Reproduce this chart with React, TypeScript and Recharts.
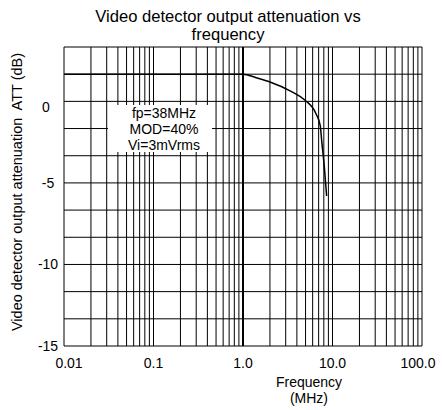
import React from 'react';
import { Line, LineChart, ReferenceLine, XAxis, YAxis } from 'recharts';

const freqMHz = [0.01, 0.1, 1.0, 1.4, 2.0, 3.4, 4.9, 6.6, 7.3, 7.6, 8.1, 8.6];
const attDb = [1.67, 1.67, 1.67, 1.45, 1.19, 0.63, 0.08, -0.8, -1.5, -2.5, -4.0, -5.8];

const xTicks = [0.01, 0.1, 1, 10, 100];
const xTickLabels = ['0.01', '0.1', '1.0', '10.0', '100.0'];
const yTicks = [-15, -10, -5, 0];
const yTickLabels = ['-15', '-10', '-5', '0'];

const decades = [0.01, 0.1, 1, 10];
const minorSteps = [1, 2, 3, 4, 5, 6, 7, 8, 9];
const dbGrid = [-15, -40 / 3, -35 / 3, -10, -25 / 3, -20 / 3, -5, -10 / 3, -5 / 3, 0, 5 / 3, 10 / 3];

const freqGrid = [...decades.flatMap((d) => minorSteps.map((m) => +(d * m).toPrecision(3))), 100];

const data = freqMHz.map((f, i) => ({ f, att: attDb[i] }));

const FONT = '"Liberation Sans", Arial, sans-serif';

const XTick = (props: any) => {
  const { x, y, payload, index } = props;
  const shift = index === 0 ? 5 : index === xTicks.length - 1 ? -4 : 0;
  return (
    <text x={x + shift} y={y} dy={22} textAnchor="middle" fontSize={14} fontFamily={FONT} fill="#000">
      {xTickLabels[xTicks.indexOf(payload.value)]}
    </text>
  );
};

const YTick = (props: any) => {
  const { x, y, payload } = props;
  // the "0" label sits a little under its gridline in the original
  const low = payload.value === 0;
  return (
    <text x={x - (low ? 18 : 16)} y={y} dy={low ? 11 : 5} textAnchor="middle" fontSize={14} fontFamily={FONT} fill="#000">
      {yTickLabels[yTicks.indexOf(payload.value)]}
    </text>
  );
};

const App: React.FC = () => {
  return (
    <div style={{ position: 'absolute', left: 0, top: 0, width: 442, height: 410, background: '#fff', fontFamily: FONT, color: '#000' }}>
      <LineChart width={442} height={410} data={data} margin={{ top: 47, right: 20, bottom: 0, left: 0 }}>
        <XAxis
          dataKey="f"
          type="number"
          scale="log"
          domain={[0.01, 100]}
          ticks={xTicks}
          allowDataOverflow
          axisLine={false}
          tickLine={false}
          tickSize={0}
          tickMargin={0}
          height={64}
          tick={<XTick />}
          interval={0}
        />
        <YAxis
          type="number"
          domain={[-15, 10 / 3]}
          ticks={yTicks}
          allowDataOverflow
          axisLine={false}
          tickLine={false}
          tickSize={0}
          tickMargin={0}
          width={64}
          tick={<YTick />}
          interval={0}
        />
        {dbGrid.map((v) => (
          <ReferenceLine key={`h${v}`} y={v} stroke="#000" strokeWidth={1} />
        ))}
        {freqGrid.map((v) => (
          <ReferenceLine key={`v${v}`} x={v} stroke="#000" strokeWidth={v === 1 ? 2 : 1} />
        ))}
        <Line type="monotone" dataKey="att" stroke="#000" strokeWidth={1.5} dot={false} isAnimationActive={false} />
      </LineChart>

      <div style={{ position: 'absolute', left: 0, top: 8, width: 456, textAlign: 'center', fontSize: 16.6, lineHeight: '18px' }}>
        Video detector output attenuation vs
        <br />
        frequency
      </div>

      <div
        style={{
          position: 'absolute',
          left: 108,
          top: 105,
          width: 104,
          height: 47,
          boxSizing: 'border-box',
          paddingLeft: 8,
          background: '#fff',
          textAlign: 'center',
          fontSize: 14,
          lineHeight: '16px',
        }}
      >
        fp=38MHz
        <br />
        MOD=40%
        <br />
        Vi=3mVrms
      </div>

      <div
        style={{
          position: 'absolute',
          left: 17,
          top: 192,
          transform: 'translate(-50%, -50%) rotate(-90deg)',
          whiteSpace: 'pre',
          fontSize: 14.5,
          lineHeight: '16px',
        }}
      >
        {'Video detector output attenuation  ATT (dB)'}
      </div>

      <div
        style={{
          position: 'absolute',
          left: 309,
          top: 374,
          transform: 'translateX(-50%)',
          textAlign: 'center',
          fontSize: 14,
          lineHeight: '16px',
          whiteSpace: 'nowrap',
        }}
      >
        Frequency
        <br />
        (MHz)
      </div>
    </div>
  );
};

export default App;
